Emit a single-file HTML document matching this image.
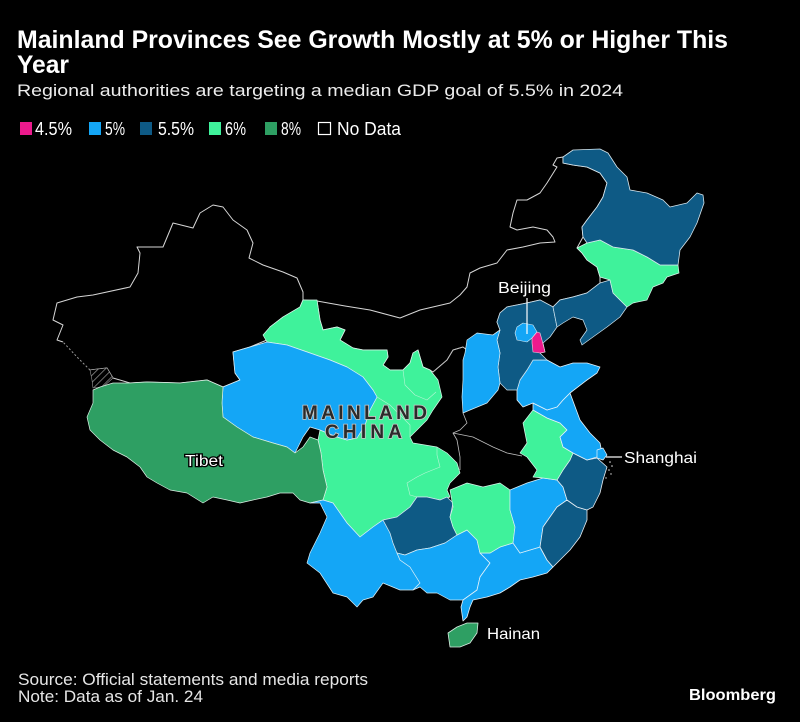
<!DOCTYPE html>
<html><head><meta charset="utf-8"><style>
html,body{margin:0;padding:0;background:#000;}
body{width:800px;height:722px;overflow:hidden;}
svg{display:block;font-family:"Liberation Sans",sans-serif;}
</style></head><body>
<svg width="800" height="722" viewBox="0 0 800 722" xmlns="http://www.w3.org/2000/svg">
<defs>
<pattern id="hatch" width="5" height="5" patternUnits="userSpaceOnUse" patternTransform="rotate(45)">
<rect width="5" height="5" fill="#000"/><line x1="0" y1="0" x2="0" y2="5" stroke="#8a8a8a" stroke-width="1.6"/>
</pattern>
</defs>
<rect width="800" height="722" fill="#000"/>

<!-- Title -->
<text x="17" y="48" font-size="25" font-weight="bold" fill="#fff" textLength="711" lengthAdjust="spacingAndGlyphs">Mainland Provinces See Growth Mostly at 5% or Higher This</text>
<text x="17" y="73" font-size="25" font-weight="bold" fill="#fff" textLength="52" lengthAdjust="spacingAndGlyphs">Year</text>
<text x="17" y="96" font-size="17" fill="#ececec" textLength="606" lengthAdjust="spacingAndGlyphs">Regional authorities are targeting a median GDP goal of 5.5% in 2024</text>

<!-- Legend -->
<rect x="20" y="122" width="12" height="13" fill="#ec1a8d"/>
<text x="35" y="135" font-size="18" fill="#fff" textLength="37" lengthAdjust="spacingAndGlyphs">4.5%</text>
<rect x="89" y="122" width="12" height="13" fill="#14a6f6"/>
<text x="105" y="135" font-size="18" fill="#fff" textLength="20" lengthAdjust="spacingAndGlyphs">5%</text>
<rect x="140" y="122" width="12" height="13" fill="#0e5a85"/>
<text x="158" y="135" font-size="18" fill="#fff" textLength="36" lengthAdjust="spacingAndGlyphs">5.5%</text>
<rect x="209" y="122" width="12" height="13" fill="#3ff29b"/>
<text x="225" y="135" font-size="18" fill="#fff" textLength="21" lengthAdjust="spacingAndGlyphs">6%</text>
<rect x="265" y="122" width="12" height="13" fill="#2e9f63"/>
<text x="281" y="135" font-size="18" fill="#fff" textLength="20" lengthAdjust="spacingAndGlyphs">8%</text>
<rect x="318.5" y="122.5" width="12" height="12" fill="#000" stroke="#fff" stroke-width="1.2"/>
<text x="337" y="135" font-size="18" fill="#fff" textLength="64" lengthAdjust="spacingAndGlyphs">No Data</text>

<!-- Map -->
<g stroke-linejoin="round">
<!-- Xinjiang -->
<polygon fill="#000" stroke="#d6d6d6" stroke-width="1" points="213,205 223,207 233,220 247,230 253,243 249,258 263,265 283,272 297,278 303,292 303,300 300,307 283,317 270,327 267,340 250,347 233,352 235,373 240,380 223,387 207,380 180,383 147,382 130,383 113,378 107,368 90,370 63,342 57,340 63,325 53,320 57,303 77,297 93,295 130,287 138,273 140,253 137,247 163,247 173,223 193,228 200,213"/>
<polyline fill="none" stroke="#000" stroke-width="2" points="90,370 63,342"/>
<polyline fill="none" stroke="#9a9a9a" stroke-width="1" stroke-dasharray="2,2" points="90,370 78,358 63,342"/>
<polygon fill="url(#hatch)" stroke="#9a9a9a" stroke-width="0.6" points="90,370 107,368 113,378 103,387 93,388 92,380"/>

<!-- Inner Mongolia -->
<polygon fill="#000" stroke="#d6d6d6" stroke-width="1" points="303,300 317,301 345,306 370,310 400,318 420,310 450,303 460,295 467,287 470,273 480,268 497,263 507,250 523,247 540,243 555,242 553,237 547,230 533,227 517,230 510,227 513,213 517,200 527,200 540,193 547,183 557,167 553,165 557,158 563,157 563,163 573,165 587,167 600,173 607,183 603,197 597,207 587,220 582,227 583,237 577,248 582,253 587,260 597,267 600,277 600,283 587,293 573,297 560,300 553,307 540,300 527,303 507,307 500,313 497,322 500,330 493,335 480,340 467,350 463,347 453,350 447,360 433,372 430,370 423,367 420,357 418,350 413,353 410,363 403,370 390,370 383,365 388,357 387,350 363,350 353,348 340,340 345,330 337,327 323,330 320,320 317,301"/>

<!-- Black province lines (Shaanxi, Henan, Hubei) -->
<polyline fill="none" stroke="#bdbdbd" stroke-width="0.8" points="463,413 467,423 460,430 453,433 457,440 460,457 460,470"/>
<polyline fill="none" stroke="#bdbdbd" stroke-width="0.8" points="453,433 473,437 493,447 507,453 522,456"/>
<polyline fill="none" stroke="#bdbdbd" stroke-width="0.8" points="433,372 447,360 453,350 463,347"/>

<!-- Mint mass: Gansu, Ningxia, Sichuan, Chongqing -->
<polygon fill="#3ff29b" stroke="#d9f5ea" stroke-width="0.7" points="263,335 270,327 283,317 300,307 303,300 317,300 320,320 323,330 337,327 345,330 340,340 353,348 363,350 377,350 387,350 388,357 383,365 390,370 403,370 410,363 413,353 418,350 420,357 423,367 430,370 438,380 442,397 433,410 427,420 420,427 410,437 413,443 437,447 447,453 457,463 460,473 450,483 447,490 450,497 440,500 427,497 417,497 410,507 397,517 383,520 373,527 360,537 347,523 333,503 323,500 327,487 323,470 321,453 318,440 320,430 337,437 347,440 357,438 365,425 370,410 377,397 373,390 363,377 347,367 330,360 310,353 287,345 267,342"/>
<polyline fill="none" stroke="#b8f5d6" stroke-width="0.6" points="403,370 405,385 415,395 427,400 436,392"/>
<polyline fill="none" stroke="#b8f5d6" stroke-width="0.6" points="377,397 390,405 400,415 410,425 410,437"/>
<polyline fill="none" stroke="#b8f5d6" stroke-width="0.6" points="437,447 437,455 440,467 425,473 417,477 407,483 410,495 417,497"/>

<!-- Qinghai -->
<polygon fill="#14a6f6" stroke="#d8eef8" stroke-width="0.7" points="233,352 250,347 267,342 287,345 310,353 330,360 347,367 363,377 373,390 377,397 370,410 365,425 357,438 347,440 337,437 320,430 310,427 303,437 295,453 287,447 273,443 253,437 237,427 223,417 222,403 223,387 240,380 235,373"/>

<!-- Tibet -->
<polygon fill="#2e9f63" stroke="#d8eee2" stroke-width="0.7" points="93,390 100,387 113,383 130,383 147,382 180,383 207,380 223,387 222,403 223,417 237,427 253,437 273,443 287,447 295,453 303,447 310,437 318,440 321,453 323,470 327,487 323,500 310,503 300,500 293,493 280,493 267,497 253,500 240,503 227,500 213,497 203,503 187,493 170,490 157,483 147,477 140,467 127,457 113,450 100,440 90,430 87,417 93,403"/>

<!-- Yunnan -->
<polygon fill="#14a6f6" stroke="#d8eef8" stroke-width="0.7" points="323,500 333,503 347,523 360,537 373,527 383,520 390,533 393,543 397,553 400,560 410,567 420,583 413,590 400,590 383,583 373,597 363,600 357,607 347,597 333,593 320,573 307,563 310,553 320,533 327,517 320,503 310,503"/>

<!-- Guizhou -->
<polygon fill="#0e5a85" stroke="#cfe3ee" stroke-width="0.7" points="383,520 397,517 410,507 417,497 427,497 440,500 447,497 453,503 450,517 453,527 457,535 445,543 430,548 417,550 405,555 397,553 393,543 390,533"/>

<!-- Guangxi -->
<polygon fill="#14a6f6" stroke="#d8eef8" stroke-width="0.7" points="397,553 405,555 417,550 430,548 445,543 457,535 467,530 477,540 480,553 490,563 480,577 477,590 463,600 450,600 437,593 427,593 420,587 413,590 420,583 410,567 400,560"/>

<!-- Guangdong -->
<polygon fill="#14a6f6" stroke="#e6f2fa" stroke-width="0.8" points="480,553 490,553 500,547 513,543 520,553 540,547 547,560 553,567 547,573 533,577 520,580 510,587 500,593 487,597 473,600 470,607 467,617 463,621 461,607 463,600 477,590 480,577 490,563"/>

<!-- Hunan -->
<polygon fill="#3ff29b" stroke="#d9f5ea" stroke-width="0.7" points="450,490 467,483 483,487 500,483 510,490 510,510 515,527 513,543 500,547 490,553 480,553 477,540 467,530 457,535 453,527 450,517 453,507"/>

<!-- Jiangxi -->
<polygon fill="#14a6f6" stroke="#d8eef8" stroke-width="0.7" points="510,490 527,483 543,478 557,480 563,487 567,500 557,507 550,517 543,527 540,547 530,550 520,553 513,543 515,527 510,510"/>

<!-- Fujian -->
<polygon fill="#0e5a85" stroke="#e6eef4" stroke-width="0.8" points="567,500 577,507 587,510 587,520 580,537 570,550 560,560 553,567 547,560 540,547 543,527 550,517 557,507"/>

<!-- Zhejiang -->
<polygon fill="#0e5a85" stroke="#e6eef4" stroke-width="0.8" points="573,453 587,460 597,458 607,467 603,480 600,493 593,507 587,510 577,507 567,500 563,487 557,480 563,470 570,460"/>

<!-- Anhui -->
<polygon fill="#3ff29b" stroke="#d9f5ea" stroke-width="0.7" points="533,410 547,418 560,423 567,430 560,437 563,447 573,453 570,460 563,470 557,480 543,478 533,477 537,470 527,457 520,453 527,443 523,423"/>

<!-- Jiangsu -->
<polygon fill="#14a6f6" stroke="#e6f2fa" stroke-width="0.8" points="533,403 547,410 557,407 563,400 570,393 580,420 590,433 600,443 602,453 597,457 587,460 573,453 563,447 560,437 567,430 560,423 547,418 533,410"/>

<!-- Shanghai -->
<polygon fill="#14a6f6" stroke="#e6f2fa" stroke-width="0.7" points="597,450 603,448 607,455 603,460 597,458"/>

<!-- Shandong -->
<polygon fill="#14a6f6" stroke="#e6f2fa" stroke-width="0.8" points="517,390 520,380 527,370 533,360 547,360 560,367 573,363 587,363 600,367 597,373 587,380 570,393 563,400 557,407 547,410 533,403 523,407 517,400"/>

<!-- Hebei -->
<polygon fill="#0e5a85" stroke="#cfe3ee" stroke-width="0.7" points="500,313 507,307 527,303 540,300 553,307 557,327 550,337 543,343 545,352 540,353 547,360 533,360 527,370 520,380 517,390 507,390 500,383 498,367 500,353 497,340 500,330 497,322"/>

<!-- Beijing -->
<polygon fill="#14a6f6" stroke="#d8eef8" stroke-width="0.6" points="515,333 517,327 523,323 533,325 537,332 532,338 527,342 517,340"/>

<!-- Tianjin -->
<polygon fill="#ec1a8d" stroke="#f0d0e0" stroke-width="0.6" points="532,338 537,332 540,333 542,340 545,352 540,353 533,352 532,343"/>

<!-- Shanxi -->
<polygon fill="#14a6f6" stroke="#d8eef8" stroke-width="0.7" points="465,353 467,340 477,333 493,335 500,330 497,340 500,353 498,367 500,383 498,390 487,403 470,410 463,413 462,397 463,380 463,360"/>

<!-- Liaoning -->
<polygon fill="#0e5a85" stroke="#cfe3ee" stroke-width="0.7" points="553,307 560,300 573,297 587,293 600,283 610,280 613,293 627,307 620,317 607,327 593,337 582,345 580,340 587,330 583,320 573,317 563,323 557,327"/>

<!-- Jilin -->
<polygon fill="#3ff29b" stroke="#d9f5ea" stroke-width="0.7" points="577,248 587,243 600,240 613,247 633,250 647,257 660,265 678,265 679,273 667,277 663,283 653,287 647,300 633,303 627,307 613,293 610,280 600,277 597,267 587,260 582,253"/>

<!-- Heilongjiang -->
<polygon fill="#0e5a85" stroke="#d6e6ee" stroke-width="0.8" points="563,157 573,150 600,149 608,153 617,167 627,177 630,190 647,193 663,200 670,207 687,203 697,193 703,195 704,203 697,223 690,237 680,250 678,265 660,265 647,257 633,250 613,247 600,240 587,243 583,237 582,227 587,220 597,207 603,197 607,183 600,173 587,167 573,165 563,163"/>

<!-- Hainan -->
<polygon fill="#2e9f63" stroke="#d8eee2" stroke-width="0.8" points="448,633 457,627 467,623 478,623 477,633 470,643 460,647 450,647"/>

<!-- Zhoushan islands dots -->
<g fill="#e0e0e0">
<circle cx="610" cy="462" r="0.8"/><circle cx="612" cy="466" r="0.8"/><circle cx="609" cy="470" r="0.8"/><circle cx="611" cy="474" r="0.7"/><circle cx="606" cy="478" r="0.7"/>
</g>
</g>

<!-- Labels -->
<line x1="527" y1="298" x2="527" y2="334" stroke="#fff" stroke-width="1.2"/>
<text x="498" y="293" font-size="15.5" fill="#fff" textLength="53" lengthAdjust="spacingAndGlyphs">Beijing</text>

<line x1="606" y1="457" x2="622" y2="457" stroke="#fff" stroke-width="1.2"/>
<text x="624" y="463" font-size="16" fill="#fff" textLength="73" lengthAdjust="spacingAndGlyphs">Shanghai</text>

<text x="487" y="639" font-size="16" fill="#fff" textLength="53" lengthAdjust="spacingAndGlyphs">Hainan</text>

<text x="185" y="466" font-size="15.5" fill="#fff" stroke="#000" stroke-width="2.5" paint-order="stroke" textLength="38" lengthAdjust="spacingAndGlyphs">Tibet</text>

<text x="302" y="419" font-size="19" font-weight="bold" fill="#2a2a2a" stroke="#c8c8c8" stroke-width="1.6" paint-order="stroke" textLength="125" lengthAdjust="spacing">MAINLAND</text>
<text x="325" y="438" font-size="19" font-weight="bold" fill="#2a2a2a" stroke="#c8c8c8" stroke-width="1.6" paint-order="stroke" textLength="77" lengthAdjust="spacing">CHINA</text>

<!-- Footer -->
<text x="18" y="685" font-size="17" fill="#e6e6e6" textLength="350" lengthAdjust="spacingAndGlyphs">Source: Official statements and media reports</text>
<text x="18" y="702" font-size="17" fill="#e6e6e6" textLength="185" lengthAdjust="spacingAndGlyphs">Note: Data as of Jan. 24</text>
<text x="689" y="700" font-size="16" font-weight="bold" fill="#fff" textLength="87" lengthAdjust="spacingAndGlyphs">Bloomberg</text>
</svg>
</body></html>
